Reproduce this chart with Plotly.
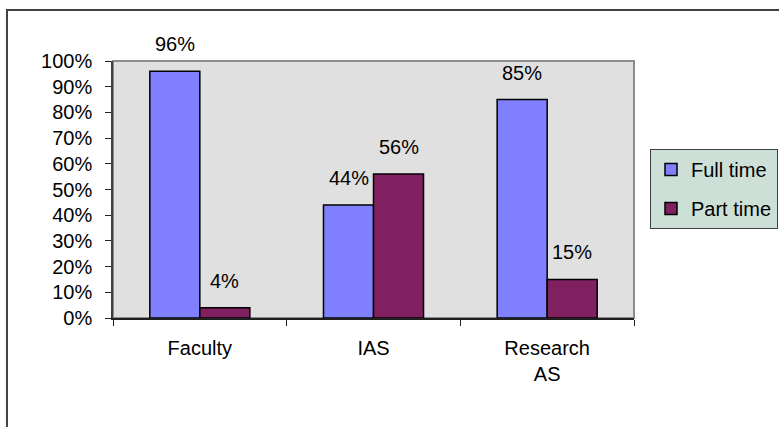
import plotly.graph_objects as go

categories = ["Faculty", "IAS", "Research<br>AS"]
full_time = [0.96, 0.44, 0.85]
part_time = [0.04, 0.56, 0.15]
series_names = ["Full time", "Part time"]
colors = ["#8080ff", "#802060"]

FONT = "Liberation Sans, Arial, sans-serif"
FS = 20

fig = go.Figure()
for i, (name, vals) in enumerate(zip(series_names, [full_time, part_time])):
    fig.add_trace(go.Bar(
        x=categories, y=vals, name=name, legendgroup=name,
        marker=dict(color=colors[i], line=dict(color="#000000", width=1.5)),
    ))

# data labels above bars
for i, vals in enumerate([full_time, part_time]):
    shift = -25 if i == 0 else 25
    for c, v in zip(categories, vals):
        fig.add_annotation(x=c, y=v, text=f"{round(v*100)}%", showarrow=False,
                           xshift=shift, yshift=27, yanchor="middle",
                           font=dict(family=FONT, size=FS, color="#000"))

# plot area border (top/right gray)
fig.add_shape(type="rect", xref="paper", yref="paper", x0=0, x1=1, y0=0, y1=1,
              line=dict(color="#8c8c8c", width=2), layer="below")
# outer chart border
fig.add_shape(type="rect", xref="paper", yref="paper", x0=-0.2035, x1=1.6, y0=-0.6, y1=1.198,
              line=dict(color="#404040", width=2), layer="below")

fig.update_layout(
    width=779, height=427,
    margin=dict(l=113, r=145, t=61, b=109, autoexpand=False),
    paper_bgcolor="#ffffff", plot_bgcolor="#e0e0e0",
    barmode="group", bargap=0.424, bargroupgap=0,
    font=dict(family=FONT, size=FS, color="#000"),
    showlegend=True,
    legend=dict(xref="container", yref="container", x=650/779, y=(427-189)/427,
                xanchor="left", yanchor="middle",
                bgcolor="#cce0d8", bordercolor="#404040", borderwidth=1,
                font=dict(family=FONT, size=FS, color="#000"),
                traceorder="grouped", tracegroupgap=10),
)
fig.update_xaxes(type="category", tickson="boundaries", ticks="outside", ticklen=6,
                 tickcolor="#202020", showline=True, linecolor="#202020", linewidth=1.5,
                 showgrid=False, ticklabelstandoff=11, automargin=False,
                 tickfont=dict(family=FONT, size=FS, color="#000"))
fig.update_yaxes(range=[0, 1], dtick=0.1, tickformat=".0%", ticks="outside", ticklen=6,
                 tickcolor="#202020", showline=True, linecolor="#404040", linewidth=1.5,
                 showgrid=False, zeroline=False, ticklabelstandoff=9, automargin=False,
                 tickfont=dict(family=FONT, size=FS, color="#000"))

fig.write_html("out.html")
